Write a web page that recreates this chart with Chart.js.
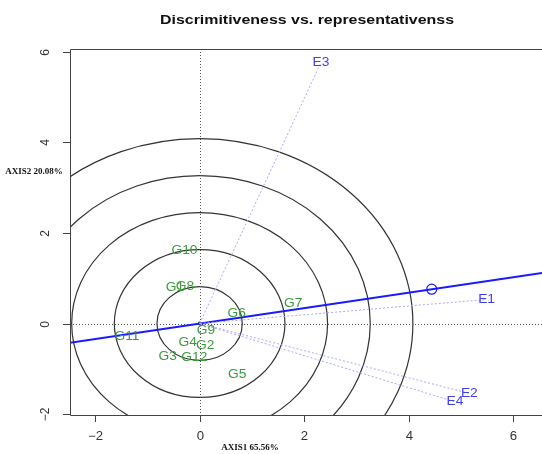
<!DOCTYPE html>
<html><head><meta charset="utf-8">
<script src="https://cdn.jsdelivr.net/npm/chart.js@4"></script>
<style>html,body{margin:0;padding:0;background:#fff;overflow:hidden}canvas{display:block}</style>
</head><body><canvas id="c" width="542" height="454"></canvas>
<script>
// ---- data ----
const genotypeNames = ['G1','G2','G3','G4','G5','G6','G7','G8','G9','G10','G11','G12'];
const genotypeX = [-0.47, 0.105, -0.61, -0.23, 0.72, 0.71, 1.79, -0.28, 0.12, -0.29, -1.39, -0.10];
const genotypeY = [0.78, -0.50, -0.74, -0.43, -1.13, 0.22, 0.43, 0.82, -0.15, 1.60, -0.30, -0.76];
const envNames = ['E1','E2','E3','E4'];
const envX = [5.49, 5.16, 2.32, 4.885];
const envY = [0.53, -1.545, 5.76, -1.73];
const aecPoint = [4.44, 0.757];
const circleRadii = [0.816, 1.632, 2.448, 3.264, 4.08];
const xTicks = [-2, 0, 2, 4, 6];
const yTicks = [-2, 0, 2, 4, 6];
const xRange = [-2.48, 6.55];
const yRange = [-2.02, 6.06];
const titleText = 'Discrimitiveness vs. representativenss';
const xTitle = 'AXIS1 65.56%';
const yTitle = 'AXIS2 20.08%';

const slope = aecPoint[1] / aecPoint[0];
const envColor = '#3f3ff2';
const genoColor = '#3c9a3c';
const stretch = 1.15;

const datasets = [];
envNames.forEach((n, i) => {
  datasets.push({
    type: 'line', label: n,
    data: [{x: 0, y: 0}, {x: envX[i], y: envY[i]}],
    borderColor: '#a8a8ff', borderWidth: 1, borderDash: [2, 2],
    pointRadius: 0, fill: false
  });
});
datasets.push({
  type: 'line', label: 'AEA',
  data: [{x: xRange[0], y: xRange[0] * slope}, {x: xRange[1], y: xRange[1] * slope}],
  borderColor: '#1a1aff', borderWidth: 2, pointRadius: 0, fill: false
});
datasets.push({
  type: 'scatter', label: 'AEC',
  data: [{x: aecPoint[0], y: aecPoint[1]}],
  pointRadius: 5, pointBorderColor: '#1a1aff', pointBackgroundColor: 'rgba(0,0,0,0)', pointBorderWidth: 1.2
});
datasets.push({
  type: 'scatter', label: 'genotypes',
  data: genotypeX.map((x, i) => ({x, y: genotypeY[i]})),
  pointRadius: 0
});
datasets.push({
  type: 'scatter', label: 'environments',
  data: envX.map((x, i) => ({x, y: envY[i]})),
  pointRadius: 0
});
datasets.push({
  type: 'scatter', label: 'origin',
  data: [{x: 0, y: 0}],
  pointRadius: 1.5, pointBackgroundColor: '#333', pointBorderColor: '#333'
});

function stretchedText(ctx, txt, cx, cy, sx) {
  ctx.save(); ctx.translate(cx, cy); ctx.scale(sx, 1); ctx.fillText(txt, 0, 0); ctx.restore();
}

const decor = {
  id: 'decor',
  beforeDatasetsDraw(chart) {
    const {ctx, chartArea: a, scales: {x, y}} = chart;
    ctx.save();
    ctx.beginPath(); ctx.rect(a.left, a.top, a.right - a.left, a.bottom - a.top); ctx.clip();
    const x0 = x.getPixelForValue(0), y0 = y.getPixelForValue(0);
    ctx.strokeStyle = '#333'; ctx.lineWidth = 1.2;
    circleRadii.forEach(r => {
      const rx = x.getPixelForValue(r) - x0;
      const ry = y0 - y.getPixelForValue(r);
      ctx.beginPath(); ctx.ellipse(x0, y0, rx, ry, 0, 0, Math.PI * 2); ctx.stroke();
    });
    ctx.lineWidth = 1;
    ctx.strokeStyle = '#555'; ctx.setLineDash([1, 2]);
    ctx.beginPath(); ctx.moveTo(a.left, Math.round(y0) + 0.5); ctx.lineTo(a.right, Math.round(y0) + 0.5); ctx.stroke();
    ctx.beginPath(); ctx.moveTo(Math.round(x0) + 0.5, a.top); ctx.lineTo(Math.round(x0) + 0.5, a.bottom); ctx.stroke();
    ctx.restore();
  },
  afterDatasetsDraw(chart) {
    const {ctx, scales: {x, y}} = chart;
    ctx.save();
    ctx.font = '12px "Liberation Sans", Arial, sans-serif';
    ctx.textAlign = 'center'; ctx.textBaseline = 'middle';
    ctx.fillStyle = genoColor;
    genotypeNames.forEach((n, i) => stretchedText(ctx, n, x.getPixelForValue(genotypeX[i]), y.getPixelForValue(genotypeY[i]), stretch));
    ctx.fillStyle = envColor;
    envNames.forEach((n, i) => stretchedText(ctx, n, x.getPixelForValue(envX[i]), y.getPixelForValue(envY[i]), stretch));
    ctx.restore();
  },
  afterDraw(chart) {
    const {ctx, chartArea: a, scales: {x, y}} = chart;
    ctx.save();
    ctx.strokeStyle = '#444'; ctx.lineWidth = 1;
    ctx.beginPath();
    ctx.moveTo(542, a.top + 0.5); ctx.lineTo(a.left + 0.5, a.top + 0.5);
    ctx.lineTo(a.left + 0.5, a.bottom + 0.5); ctx.lineTo(542, a.bottom + 0.5);
    ctx.stroke();
    ctx.fillStyle = '#333';
    ctx.font = '12px "Liberation Sans", Arial, sans-serif';
    ctx.textAlign = 'center'; ctx.textBaseline = 'middle';
    xTicks.forEach(t => {
      const px = Math.round(x.getPixelForValue(t)) + 0.5;
      ctx.beginPath(); ctx.moveTo(px, a.bottom); ctx.lineTo(px, a.bottom + 7); ctx.stroke();
      stretchedText(ctx, String(t).replace('-', '\u2212'), px, a.bottom + 22, 1.1);
    });
    yTicks.forEach(t => {
      const py = Math.round(y.getPixelForValue(t)) + 0.5;
      ctx.beginPath(); ctx.moveTo(a.left, py); ctx.lineTo(a.left - 7, py); ctx.stroke();
      ctx.save(); ctx.translate(a.left - 24, py); ctx.rotate(-Math.PI / 2);
      ctx.fillText(String(t).replace('-', '\u2212'), 0, 0); ctx.restore();
    });
    // titles
    ctx.fillStyle = '#111';
    ctx.font = 'bold 13px "Liberation Sans", Arial, sans-serif';
    const tw = ctx.measureText(titleText).width;
    stretchedText(ctx, titleText, 307, 20, 294 / tw);
    ctx.font = 'bold 9px "Liberation Serif", "Times New Roman", serif';
    ctx.fillText(xTitle, 250, 448);
    ctx.fillText(yTitle, 34, 172);
    ctx.restore();
  }
};

new Chart(document.getElementById('c'), {
  type: 'scatter',
  data: {datasets},
  options: {
    responsive: false, animation: false, devicePixelRatio: 1,
    layout: {autoPadding: false, padding: {left: 70, top: 49, right: 0, bottom: 39}},
    scales: {
      x: {type: 'linear', min: xRange[0], max: xRange[1], display: false},
      y: {type: 'linear', min: yRange[0], max: yRange[1], display: false}
    },
    plugins: {legend: {display: false}, tooltip: {enabled: false}},
    events: []
  },
  plugins: [decor]
});
</script>
</body></html>
